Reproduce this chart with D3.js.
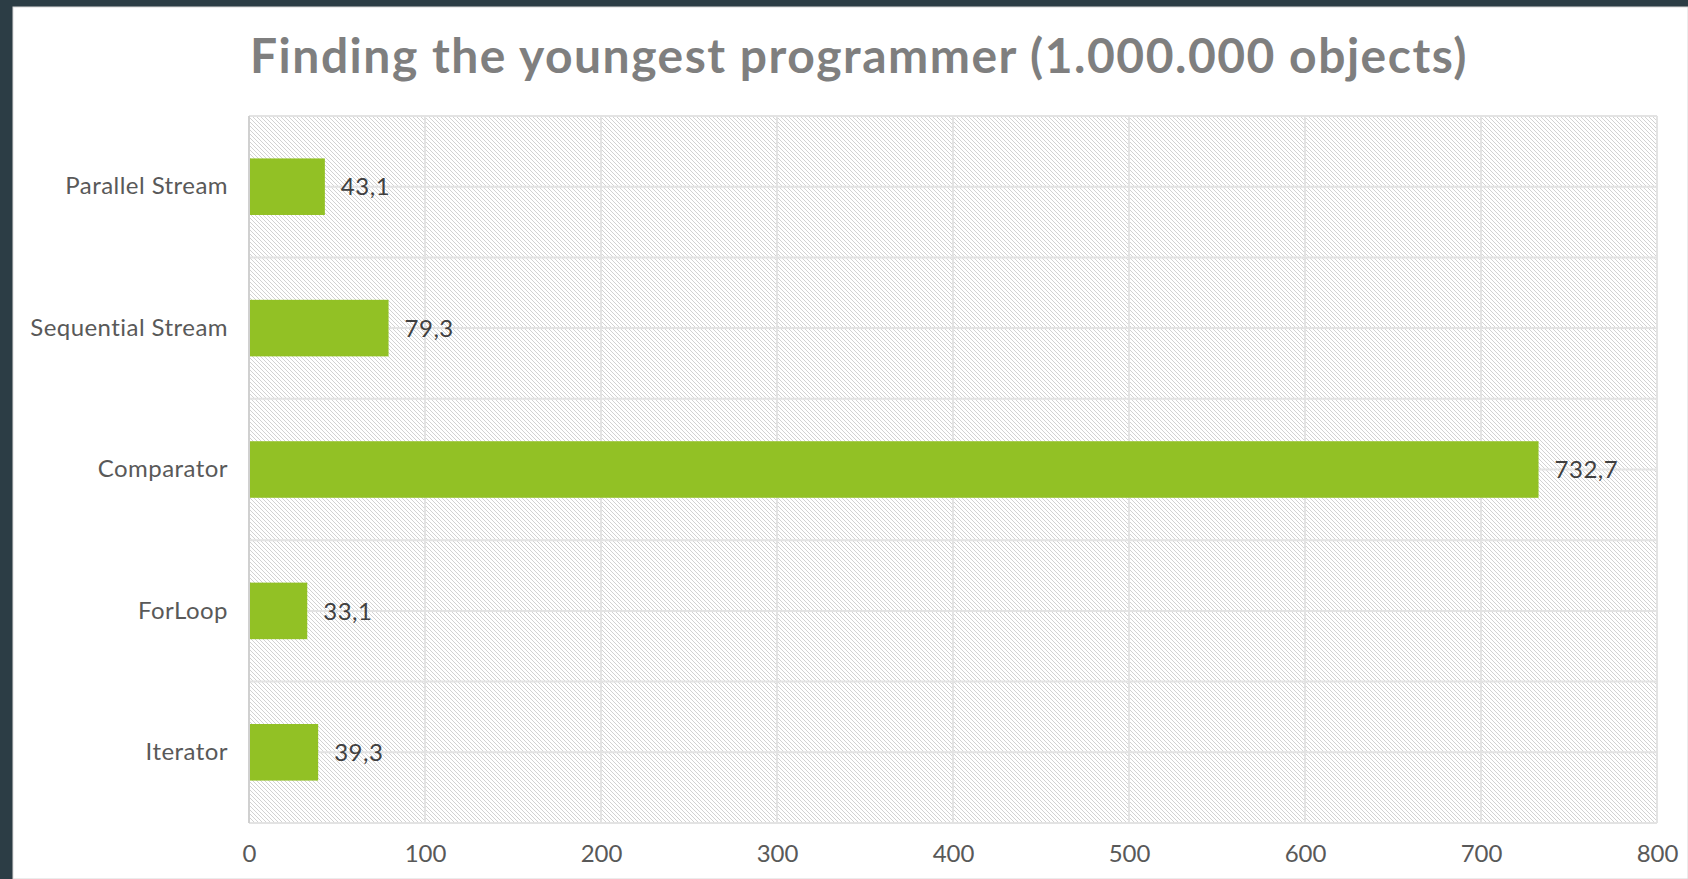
<!DOCTYPE html>
<html>
<head>
<meta charset="utf-8">
<script src="https://cdn.jsdelivr.net/npm/d3@7"></script>
<style>
  html, body { margin: 0; padding: 0; background: #2c3d45; }
  svg { display: block; }
</style>
</head>
<body>
<script>
const categories = ['Parallel Stream', 'Sequential Stream', 'Comparator', 'ForLoop', 'Iterator'];
const values = [43.1, 79.3, 732.7, 33.1, 39.3];
const xTicks = [0, 100, 200, 300, 400, 500, 600, 700, 800];
const title = 'Finding the youngest programmer (1.000.000 objects)';

const W = 1688;
const H = 879;
const plot = { left: 249, right: 1657, top: 116, bottom: 823 };
const font = 'Lato, "Open Sans", sans-serif';

const svg = d3.select('body').append('svg')
  .attr('width', W)
  .attr('height', H);

// dark frame + white panel
svg.append('rect').attr('width', W).attr('height', H).attr('fill', '#2c3d45');
svg.append('rect')
  .attr('x', 13).attr('y', 7)
  .attr('width', W - 13).attr('height', H - 7)
  .attr('fill', '#ffffff')
  .attr('stroke', '#d9d9d9');

// hatch pattern for the plot area
const defs = svg.append('defs');
const pat = defs.append('pattern')
  .attr('id', 'hatch')
  .attr('patternUnits', 'userSpaceOnUse')
  .attr('width', 4)
  .attr('height', 4);
pat.append('rect').attr('width', 4).attr('height', 4).attr('fill', '#ffffff');
[0, 1, 2, 3].forEach((i) => {
  pat.append('rect')
    .attr('x', i).attr('y', i)
    .attr('width', 1).attr('height', 1)
    .attr('fill', '#d2d2d2');
});

const x = d3.scaleLinear()
  .domain([0, 800])
  .range([plot.left, plot.right]);

const y = d3.scaleBand()
  .domain(categories)
  .range([plot.top, plot.bottom])
  .paddingInner(0.6)
  .paddingOuter(0.3);

svg.append('rect')
  .attr('x', plot.left).attr('y', plot.top)
  .attr('width', plot.right - plot.left)
  .attr('height', plot.bottom - plot.top)
  .attr('fill', 'url(#hatch)')
  .attr('shape-rendering', 'crispEdges');

// horizontal gridlines: category boundaries and centres
const step = y.step();
const hLines = [];
categories.forEach((c, i) => {
  hLines.push(plot.top + i * step);
  hLines.push(plot.top + (i + 0.5) * step);
});
hLines.push(plot.bottom);

svg.append('g')
  .selectAll('line')
  .data(hLines)
  .join('line')
  .attr('x1', plot.left)
  .attr('x2', plot.right)
  .attr('y1', (d) => d)
  .attr('y2', (d) => d)
  .attr('stroke', '#e3e3e3')
  .attr('stroke-width', 2);

// vertical gridlines
svg.append('g')
  .selectAll('line')
  .data(xTicks)
  .join('line')
  .attr('x1', (d) => x(d))
  .attr('x2', (d) => x(d))
  .attr('y1', plot.top)
  .attr('y2', plot.bottom)
  .attr('stroke', (d) => (d === 0 ? '#d0d0d0' : '#e3e3e3'))
  .attr('stroke-width', 2);

// bars
svg.append('g')
  .selectAll('rect')
  .data(values)
  .join('rect')
  .attr('x', x(0) + 1)
  .attr('y', (d, i) => y(categories[i]))
  .attr('width', (d) => x(d) - x(0) - 1)
  .attr('height', y.bandwidth())
  .attr('fill', '#92c125');

// data labels
svg.append('g')
  .selectAll('text')
  .data(values)
  .join('text')
  .attr('x', (d) => x(d) + 16)
  .attr('y', (d, i) => y(categories[i]) + y.bandwidth() / 2)
  .attr('dy', '0.36em')
  .style('font-family', font)
  .style('font-size', '24px')
  .style('letter-spacing', '0.5px')
  .attr('fill', '#404040')
  .text((d) => d3.format('.1f')(d).replace('.', ','));

// y axis labels
const yAxis = d3.axisLeft(y).tickSize(0).tickPadding(21);
const gy = svg.append('g')
  .attr('transform', `translate(${plot.left}, 0)`)
  .call(yAxis);
gy.select('.domain').remove();
gy.selectAll('text')
  .style('font-family', font)
  .style('font-size', '24px')
  .style('letter-spacing', '0.45px')
  .attr('fill', '#595959');

// x axis labels
const xAxis = d3.axisBottom(x).tickValues(xTicks).tickSize(0).tickPadding(22);
const gx = svg.append('g')
  .attr('transform', `translate(0, ${plot.bottom})`)
  .call(xAxis);
gx.select('.domain').remove();
gx.selectAll('text')
  .style('font-family', font)
  .style('font-size', '24px')
  .attr('fill', '#595959');

// title
svg.append('text')
  .attr('x', 250)
  .attr('y', 73)
  .style('font-family', font)
  .style('font-size', '48px')
  .style('font-weight', 'bold')
  .style('letter-spacing', '1.5px')
  .attr('fill', '#7f7f7f')
  .text(title);
</script>
</body>
</html>
